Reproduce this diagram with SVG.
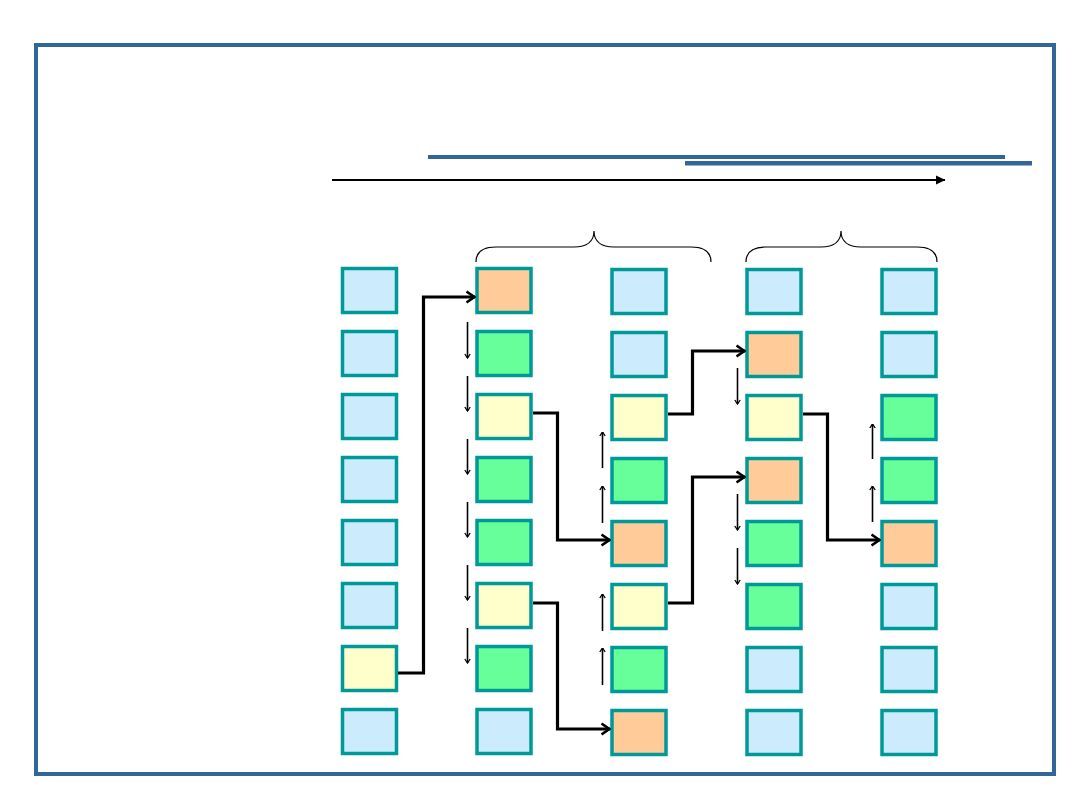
<svg xmlns="http://www.w3.org/2000/svg" width="1080" height="810" viewBox="0 0 1080 810">
<style>
.b{stroke:#009999;stroke-width:3.5}
.bl{fill:#CCEBFC}
.or{fill:#FFCC99}
.gr{fill:#66FF99}
.ye{fill:#FFFFCC}
.conn{fill:none;stroke:#000;stroke-width:3.2;marker-end:url(#big)}
.thin{stroke:#000;stroke-width:1.6;marker-end:url(#small)}
</style>
<defs>
<marker id="big" markerUnits="userSpaceOnUse" viewBox="0 0 10 14" refX="9.5" refY="7" markerWidth="10" markerHeight="14" orient="auto">
<path d="M1,1.5 L9,7 L1,12.5" fill="none" stroke="#000" stroke-width="2.6"/>
</marker>
<marker id="small" markerUnits="userSpaceOnUse" viewBox="0 0 6 7" refX="5.5" refY="3.5" markerWidth="6" markerHeight="7" orient="auto">
<path d="M1.5,0.8 L5.5,3.5 L1.5,6.2" fill="none" stroke="#000" stroke-width="1.3"/>
</marker>
<marker id="tri" markerUnits="userSpaceOnUse" viewBox="0 0 10 10" refX="9" refY="5" markerWidth="10" markerHeight="10" orient="auto">
<path d="M0,0.5 L9.5,5 L0,9.5 Z" fill="#000"/>
</marker>
</defs>
<rect width="1080" height="810" fill="#fff"/>
<rect x="36" y="45" width="1018" height="729" fill="none" stroke="#31669A" stroke-width="4"/>
<g id="header">
<rect x="428" y="155" width="577" height="4" fill="#31669A"/>
<rect x="685" y="161" width="347" height="4.5" fill="#31669A"/>
<line x1="332" y1="180" x2="945" y2="180" stroke="#000" stroke-width="2" marker-end="url(#tri)"/>
<path d="M476,262 C476,252 483,247 496,247 L574,247 C587,247 594,241 594,231 C594,241 601,247 614,247 L691,247 C704,247 711,252 711,262" fill="none" stroke="#000" stroke-width="1.2"/>
<path d="M746,262 C746,252 753,247 766,247 L821,247 C834,247 841,241 841,231 C841,241 848,247 861,247 L917,247 C930,247 937,252 937,262" fill="none" stroke="#000" stroke-width="1.2"/>
</g>
<g id="col1">
<rect id="c1r1" class="b bl" x="342.5" y="268.5" width="54" height="44"/>
<rect id="c1r2" class="b bl" x="342.5" y="331.5" width="54" height="44"/>
<rect id="c1r3" class="b bl" x="342.5" y="394.5" width="54" height="44"/>
<rect id="c1r4" class="b bl" x="342.5" y="457.5" width="54" height="44"/>
<rect id="c1r5" class="b bl" x="342.5" y="520.5" width="54" height="44"/>
<rect id="c1r6" class="b bl" x="342.5" y="583.5" width="54" height="44"/>
<rect id="c1r7" class="b ye" x="342.5" y="646.5" width="54" height="44"/>
<rect id="c1r8" class="b bl" x="342.5" y="709.5" width="54" height="44"/>
</g>
<g id="col2">
<rect id="c2r1" class="b or" x="477" y="268.5" width="54" height="44"/>
<rect id="c2r2" class="b gr" x="477" y="331.5" width="54" height="44"/>
<rect id="c2r3" class="b ye" x="477" y="394.5" width="54" height="44"/>
<rect id="c2r4" class="b gr" x="477" y="457.5" width="54" height="44"/>
<rect id="c2r5" class="b gr" x="477" y="520.5" width="54" height="44"/>
<rect id="c2r6" class="b ye" x="477" y="583.5" width="54" height="44"/>
<rect id="c2r7" class="b gr" x="477" y="646.5" width="54" height="44"/>
<rect id="c2r8" class="b bl" x="477" y="709.5" width="54" height="44"/>
</g>
<g id="col3">
<rect id="c3r1" class="b bl" x="612" y="269.5" width="54" height="44"/>
<rect id="c3r2" class="b bl" x="612" y="332.5" width="54" height="44"/>
<rect id="c3r3" class="b ye" x="612" y="395.5" width="54" height="44"/>
<rect id="c3r4" class="b gr" x="612" y="458.5" width="54" height="44"/>
<rect id="c3r5" class="b or" x="612" y="521.5" width="54" height="44"/>
<rect id="c3r6" class="b ye" x="612" y="584.5" width="54" height="44"/>
<rect id="c3r7" class="b gr" x="612" y="647.5" width="54" height="44"/>
<rect id="c3r8" class="b or" x="612" y="710.5" width="54" height="44"/>
</g>
<g id="col4">
<rect id="c4r1" class="b bl" x="747" y="269.5" width="54" height="44"/>
<rect id="c4r2" class="b or" x="747" y="332.5" width="54" height="44"/>
<rect id="c4r3" class="b ye" x="747" y="395.5" width="54" height="44"/>
<rect id="c4r4" class="b or" x="747" y="458.5" width="54" height="44"/>
<rect id="c4r5" class="b gr" x="747" y="521.5" width="54" height="44"/>
<rect id="c4r6" class="b gr" x="747" y="584.5" width="54" height="44"/>
<rect id="c4r7" class="b bl" x="747" y="647.5" width="54" height="44"/>
<rect id="c4r8" class="b bl" x="747" y="710.5" width="54" height="44"/>
</g>
<g id="col5">
<rect id="c5r1" class="b bl" x="882" y="269.5" width="54" height="44"/>
<rect id="c5r2" class="b bl" x="882" y="332.5" width="54" height="44"/>
<rect id="c5r3" class="b gr" x="882" y="395.5" width="54" height="44"/>
<rect id="c5r4" class="b gr" x="882" y="458.5" width="54" height="44"/>
<rect id="c5r5" class="b or" x="882" y="521.5" width="54" height="44"/>
<rect id="c5r6" class="b bl" x="882" y="584.5" width="54" height="44"/>
<rect id="c5r7" class="b bl" x="882" y="647.5" width="54" height="44"/>
<rect id="c5r8" class="b bl" x="882" y="710.5" width="54" height="44"/>
</g>
<g id="connectors">
<path class="conn" d="M398,673 H423.5 V297 H475"/>
<path class="conn" d="M533,413 H557.5 V540 H610"/>
<path class="conn" d="M533,603 H557.5 V729 H610"/>
<path class="conn" d="M668,414 H692.5 V351 H745"/>
<path class="conn" d="M668,603 H692.5 V477 H745"/>
<path class="conn" d="M803,414 H827.5 V540 H880"/>
<line class="thin" x1="467.5" y1="322" x2="467.5" y2="358"/>
<line class="thin" x1="467.5" y1="376" x2="467.5" y2="411"/>
<line class="thin" x1="467.5" y1="439" x2="467.5" y2="474"/>
<line class="thin" x1="467.5" y1="502" x2="467.5" y2="537"/>
<line class="thin" x1="467.5" y1="565" x2="467.5" y2="600"/>
<line class="thin" x1="467.5" y1="628" x2="467.5" y2="663"/>
<line class="thin" x1="602.5" y1="468" x2="602.5" y2="432"/>
<line class="thin" x1="602.5" y1="523" x2="602.5" y2="486"/>
<line class="thin" x1="602.5" y1="631" x2="602.5" y2="594"/>
<line class="thin" x1="602.5" y1="685" x2="602.5" y2="648"/>
<line class="thin" x1="737.5" y1="368" x2="737.5" y2="404"/>
<line class="thin" x1="737.5" y1="494" x2="737.5" y2="530"/>
<line class="thin" x1="737.5" y1="548" x2="737.5" y2="584"/>
<line class="thin" x1="872.5" y1="459" x2="872.5" y2="424"/>
<line class="thin" x1="872.5" y1="522" x2="872.5" y2="486"/>
</g>
</svg>
